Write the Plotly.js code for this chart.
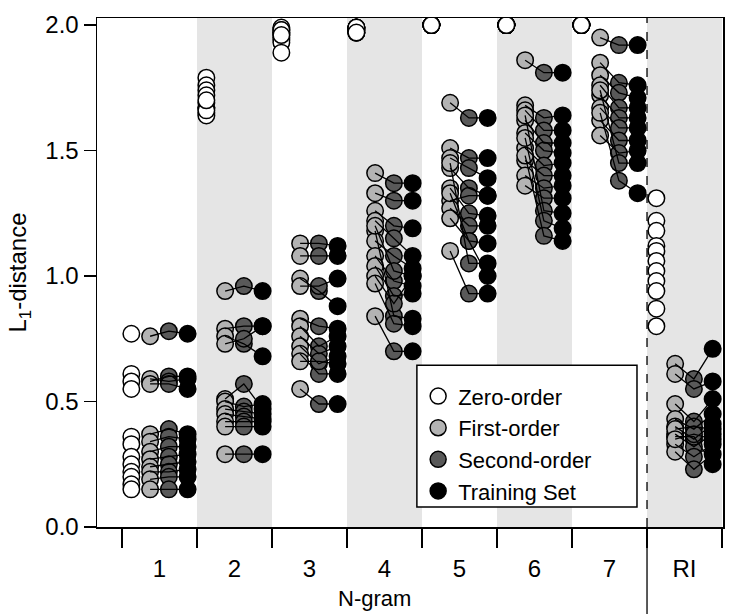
<!DOCTYPE html>
<html>
<head>
<meta charset="utf-8">
<script src="https://cdn.plot.ly/plotly-3.0.1.min.js"></script>
<style>html,body{margin:0;padding:0;background:#fff;}#chart{width:736px;height:614px;}</style>
</head>
<body>
<div id="chart"></div>
<script>
// ---- data ----
var groups = ['1', '2', '3', '4', '5', '6', '7', 'RI'];
var seriesNames = ['Zero-order', 'First-order', 'Second-order', 'Training Set'];

var zeroOrder = [
  [0.77, 0.61, 0.58, 0.55, 0.36, 0.33, 0.28, 0.25, 0.22, 0.20, 0.17, 0.15],
  [1.79, 1.76, 1.74, 1.72, 1.69, 1.67, 1.67, 1.65, 1.64, 1.66, 1.70],
  [1.99, 1.98, 1.97, 1.96, 1.95, 1.94, 1.93, 1.97, 1.98, 1.89, 1.96],
  [1.99, 1.97, 1.98, 1.99, 1.97, 1.99, 1.98, 1.97, 1.99, 1.98, 1.99, 1.97],
  [2.00, 2.00, 2.00, 2.00, 2.00, 2.00, 2.00, 2.00, 2.00, 2.00, 2.00],
  [2.00, 2.00, 2.00, 2.00, 2.00, 2.00, 2.00, 2.00, 2.00, 2.00, 2.00, 2.00],
  [2.00, 2.00, 2.00, 2.00, 2.00, 2.00, 2.00, 2.00, 2.00, 2.00],
  [1.31, 1.22, 1.18, 1.12, 1.10, 1.06, 1.02, 0.98, 0.94, 0.87, 0.80]
];
var firstOrder = [
  [0.76, 0.58, 0.59, 0.57, 0.37, 0.34, 0.30, 0.27, 0.24, 0.22, 0.19, 0.15],
  [0.94, 0.79, 0.76, 0.73, 0.51, 0.50, 0.47, 0.45, 0.42, 0.40, 0.29],
  [1.13, 1.08, 0.99, 0.96, 0.83, 0.80, 0.76, 0.72, 0.69, 0.66, 0.55],
  [1.41, 1.33, 1.26, 1.22, 1.18, 1.14, 1.08, 1.04, 1.00, 0.97, 0.84, 1.20],
  [1.69, 1.51, 1.47, 1.43, 1.35, 1.30, 1.27, 1.23, 1.10, 1.45, 1.33],
  [1.86, 1.68, 1.66, 1.62, 1.57, 1.51, 1.46, 1.40, 1.36, 1.64, 1.55, 1.48],
  [1.95, 1.85, 1.80, 1.76, 1.72, 1.67, 1.62, 1.56, 1.74, 1.65],
  [0.65, 0.61, 0.49, 0.43, 0.40, 0.37, 0.33, 0.30, 0.36, 0.39, 0.35]
];
var secondOrder = [
  [0.78, 0.60, 0.58, 0.57, 0.39, 0.36, 0.32, 0.28, 0.25, 0.22, 0.20, 0.15],
  [0.96, 0.80, 0.73, 0.75, 0.57, 0.48, 0.46, 0.44, 0.42, 0.40, 0.29],
  [1.13, 1.08, 0.94, 0.96, 0.80, 0.72, 0.69, 0.65, 0.61, 0.66, 0.49],
  [1.37, 1.30, 1.20, 1.15, 0.84, 1.08, 0.98, 0.92, 0.89, 0.81, 0.70, 1.02],
  [1.63, 1.47, 1.43, 1.35, 1.25, 1.32, 1.20, 1.14, 0.93, 1.05, 1.14],
  [1.81, 1.63, 1.58, 1.53, 1.50, 1.44, 1.40, 1.35, 1.31, 1.26, 1.22, 1.16],
  [1.92, 1.77, 1.73, 1.67, 1.63, 1.59, 1.54, 1.49, 1.45, 1.38],
  [0.59, 0.55, 0.42, 0.39, 0.35, 0.32, 0.28, 0.23, 0.36, 0.40, 0.37]
];
var trainingSet = [
  [0.77, 0.60, 0.59, 0.55, 0.37, 0.35, 0.32, 0.29, 0.26, 0.23, 0.20, 0.15],
  [0.94, 0.80, 0.68, 0.80, 0.47, 0.49, 0.45, 0.43, 0.42, 0.40, 0.29],
  [1.12, 1.08, 0.88, 0.99, 0.79, 0.76, 0.72, 0.68, 0.61, 0.65, 0.49],
  [1.37, 1.30, 1.19, 1.08, 0.83, 1.03, 0.96, 0.93, 1.00, 0.80, 0.70, 1.00],
  [1.63, 1.47, 1.39, 1.32, 1.24, 1.32, 1.20, 1.13, 0.93, 1.05, 1.00],
  [1.81, 1.64, 1.58, 1.53, 1.49, 1.45, 1.40, 1.36, 1.31, 1.25, 1.19, 1.14],
  [1.92, 1.76, 1.71, 1.67, 1.63, 1.59, 1.54, 1.50, 1.45, 1.33],
  [0.71, 0.58, 0.51, 0.45, 0.41, 0.37, 0.33, 0.29, 0.25, 0.39, 0.35]
];
var yTicks = [0, 0.5, 1.0, 1.5, 2.0];

// ---- styles ----
var fillColors = ['#ffffff', '#b3b3b3', '#595959', '#000000'];
var FONT = 'Liberation Sans, Arial, sans-serif';
var xRange = [-0.333, 8.013];
var yRange = [0, 2.028];

var allSeries = [zeroOrder, firstOrder, secondOrder, trainingSet];
function colX(g, m) { return g + 0.125 + 0.25 * m; }

var traces = [];
allSeries.forEach(function (series, m) {
  var xs = [], ys = [];
  series.forEach(function (vals, g) {
    vals.forEach(function (v) { xs.push(colX(g, m)); ys.push(v); });
  });
  traces.push({
    type: 'scatter', mode: 'markers', name: seriesNames[m],
    x: xs, y: ys,
    marker: { size: 16.5, color: fillColors[m], line: { color: '#000', width: 1.5 } },
    hoverinfo: 'skip'
  });
});

// connecting lines first -> second -> training
var lx = [], ly = [];
groups.forEach(function (lab, g) {
  firstOrder[g].forEach(function (v, i) {
    lx.push(colX(g, 1), colX(g, 2), colX(g, 3), null);
    ly.push(firstOrder[g][i], secondOrder[g][i], trainingSet[g][i], null);
  });
});
traces.push({
  type: 'scatter', mode: 'lines', x: lx, y: ly, showlegend: false,
  line: { color: '#000', width: 1.3 }, hoverinfo: 'skip'
});

var shapes = [];
[1, 3, 5, 7].forEach(function (g) {
  shapes.push({ type: 'rect', layer: 'below', xref: 'x', yref: 'paper',
    x0: g, x1: g + 1, y0: 0, y1: 1, fillcolor: '#e5e5e5', line: { width: 0 } });
});
var sepPaper = (7 - xRange[0]) / (xRange[1] - xRange[0]);
shapes.push({ type: 'line', layer: 'below', xref: 'paper', yref: 'paper',
  x0: sepPaper, x1: sepPaper, y0: 0, y1: 1, line: { color: '#000', width: 1.3, dash: 'dash' } });
shapes.push({ type: 'line', xref: 'paper', yref: 'paper',
  x0: sepPaper, x1: sepPaper, y0: 0, y1: -0.175, line: { color: '#000', width: 1.3 } });
// legend box
shapes.push({ type: 'rect', layer: 'above', xref: 'paper', yref: 'paper',
  x0: 0.511, x1: 0.8626, y0: 0.0393, y1: 0.318,
  fillcolor: '#fff', line: { color: '#000', width: 1.5 } });

var layout = {
  width: 736, height: 614,
  margin: { l: 97, r: 13, t: 18, b: 87 },
  paper_bgcolor: '#fff', plot_bgcolor: '#fff',
  font: { family: FONT, size: 22, color: '#000' },
  showlegend: true,
  legend: {
    x: 0.513, y: 0.298, xanchor: 'left', yanchor: 'top',
    bgcolor: 'rgba(0,0,0,0)', borderwidth: 0,
    font: { family: FONT, size: 22, color: '#000' },
    tracegroupgap: 0
  },
  xaxis: {
    range: xRange, showgrid: false, zeroline: false,
    showline: true, mirror: true, linecolor: '#000', linewidth: 1.5,
    tickmode: 'array', tickvals: groups.map(function (l, g) { return g + 0.5; }),
    ticktext: groups, ticks: '', ticklabelstandoff: 20,
    tickfont: { family: FONT, size: 24 },
    minor: { tickmode: 'array', tickvals: [0, 1, 2, 3, 4, 5, 6, 7, 8], ticks: 'outside',
      ticklen: 19, tickwidth: 1.3, tickcolor: '#000', showgrid: false }
  },
  yaxis: {
    range: yRange, showgrid: false, zeroline: false,
    showline: true, mirror: true, linecolor: '#000', linewidth: 1.5,
    tickmode: 'array', tickvals: yTicks, tickformat: '.1f',
    ticks: 'outside', ticklen: 12, tickwidth: 1.3, tickcolor: '#000',
    tickfont: { family: FONT, size: 24 },
    title: { text: 'L<sub>1</sub>-distance', font: { family: FONT, size: 24 }, standoff: 12 }
  },
  shapes: shapes,
  annotations: [{
    text: 'N-gram', xref: 'x', yref: 'paper', x: 3.36, y: -0.1395,
    xanchor: 'center', yanchor: 'middle', showarrow: false,
    font: { family: FONT, size: 22 }
  }]
};

Plotly.newPlot('chart', traces, layout, { displayModeBar: false, staticPlot: true });
</script>
</body>
</html>
